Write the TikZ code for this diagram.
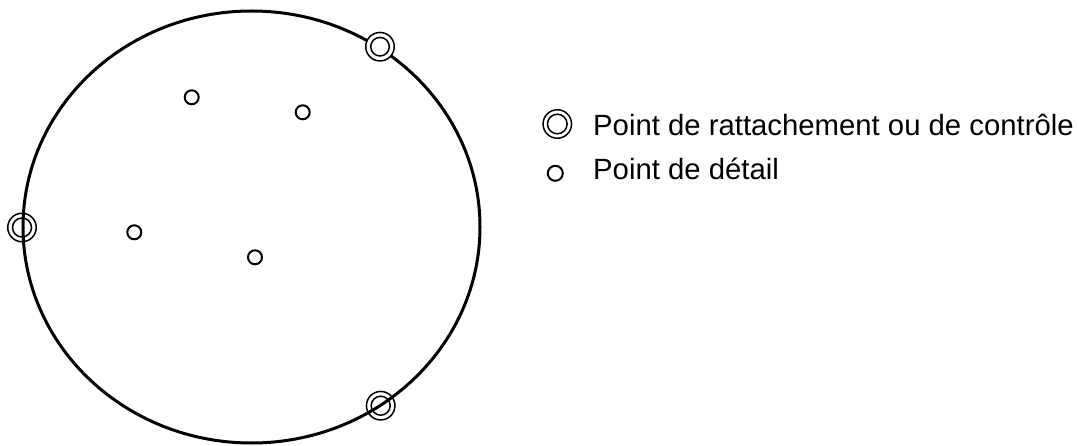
\documentclass[tikz,border=0pt]{standalone}
\usepackage{fontspec}
\setmainfont{Liberation Sans}
\usetikzlibrary{shapes.geometric}
\tikzset{
  outline/.style={draw, ellipse, line width=3pt, inner sep=0pt, outer sep=0pt},
  ctrlout/.style={draw, circle, line width=1.5pt, minimum size=28.5pt, inner sep=0pt, outer sep=0pt},
  ctrlin/.style={line width=1.5pt},
  detail/.style={draw, circle, line width=2pt, minimum size=14pt, inner sep=0pt, outer sep=0pt},
  legend/.style={anchor=base west, inner sep=0pt, font=\fontsize{29.3pt}{34pt}\selectfont}
}
\begin{document}
\begin{tikzpicture}[x=1pt, y=-1pt]
\useasboundingbox (0,0) rectangle (1079,446);
% main outline
\node[outline, minimum width=457pt, minimum height=432pt] (zone) at (251.5,227) {};
% detail points
\node[detail] (d1) at (191.7,97.3) {};
\node[detail] (d2) at (302.7,112.3) {};
\node[detail] (d3) at (134.3,232.3) {};
\node[detail] (d4) at (255,257.3) {};
% control points
\node[ctrlout] (c1) at (22,227.5) {};
\draw[ctrlin] (c1.center) circle (9.5pt);
\node[ctrlout, fill=white] (c2) at (380,46.7) {};
\draw[ctrlin] (c2.center) circle (9.3pt);
\node[ctrlout] (c3) at (380.7,405.7) {};
\draw[ctrlin] (c3.center) circle (9.5pt);
% legend
\node[ctrlout, minimum size=28.5pt] (lc) at (557.3,124) {};
\draw[ctrlin] (lc.center) circle (9.8pt);
\node[detail, minimum size=15pt] (ld) at (555.3,173.3) {};
\node[legend] (t1) at (593,136) {Point de rattachement ou de contrôle};
\node[legend] (t2) at (593,179.5) {Point de détail};
\end{tikzpicture}
\end{document}
